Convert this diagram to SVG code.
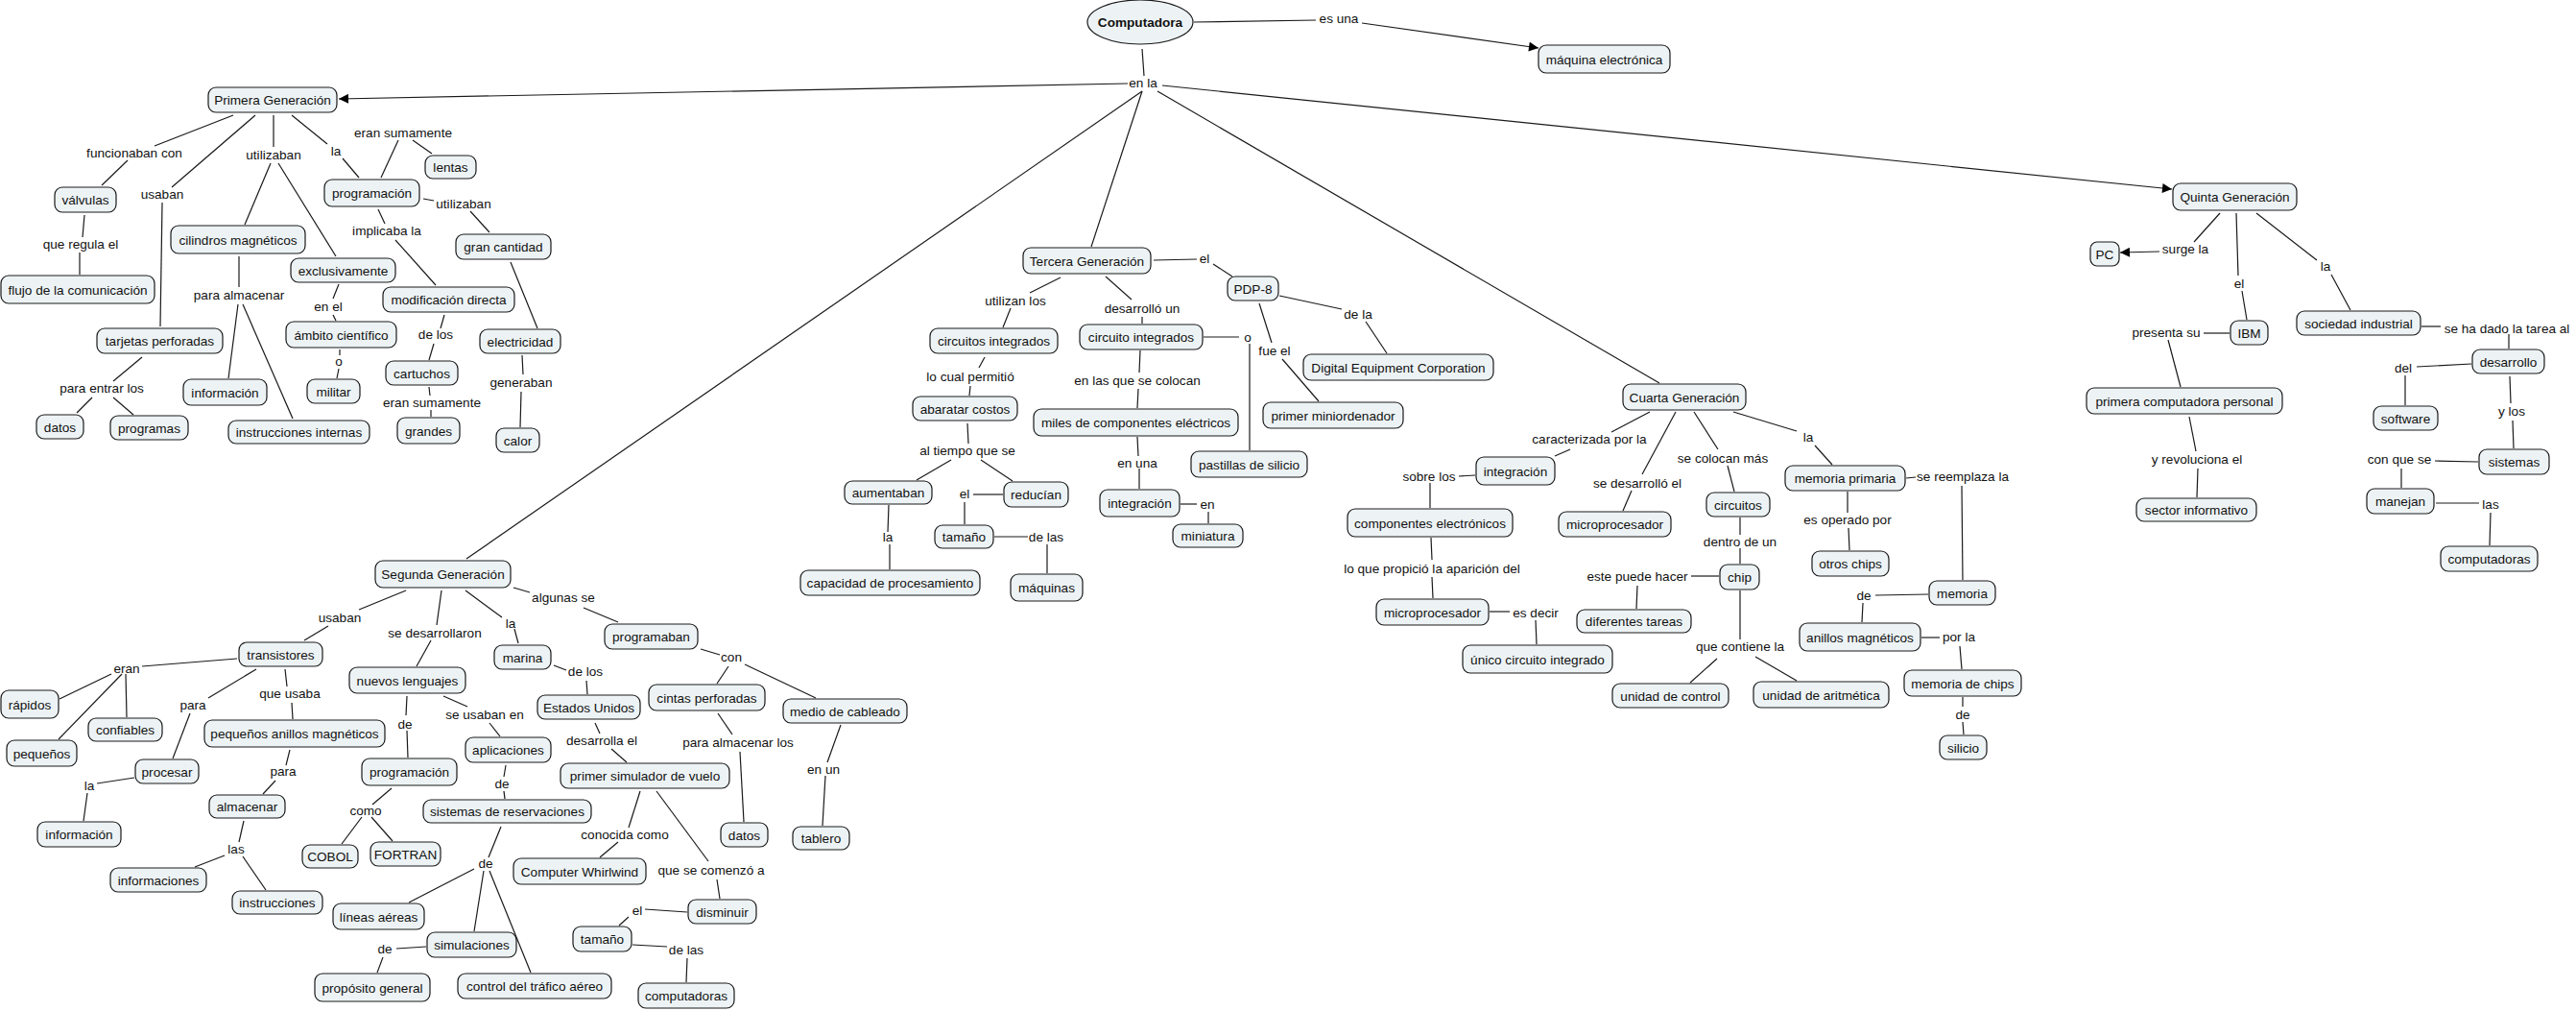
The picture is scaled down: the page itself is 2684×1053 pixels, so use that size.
<svg xmlns="http://www.w3.org/2000/svg" width="2684" height="1053" viewBox="0 0 2684 1053">
<style>
.n rect,.n ellipse{fill:#edf3f5;stroke:#1a1a1a;stroke-width:1.2}
text{font-family:"Liberation Sans",Arial,sans-serif;font-size:13.6px;fill:#111;text-anchor:middle}
.b{font-weight:bold}
#connectors path{stroke:#1a1a1a;stroke-width:1.2;fill:none}
</style>
<defs>
<marker id="arr" viewBox="0 0 10 10" refX="10" refY="5" markerWidth="11" markerHeight="10" markerUnits="userSpaceOnUse" orient="auto"><path d="M0,0 L10,5 L0,10 z" fill="#000"/></marker>
</defs>
<rect width="2684" height="1053" fill="#fff"/>
<g id="connectors">
<path d="M1244,23 L1371,21"/>
<path d="M1419,24 L1603,50" marker-end="url(#arr)"/>
<path d="M1190,51 L1192,79"/>
<path d="M1175,87 L353,103" marker-end="url(#arr)"/>
<path d="M1211,89 L2263,197" marker-end="url(#arr)"/>
<path d="M1206,95 L1729,399"/>
<path d="M1190,95 L486,582"/>
<path d="M1190,95 L1137,257"/>
<path d="M243,120 L161,152"/><path d="M133,167 L106,193"/>
<path d="M266,120 L179,195"/><path d="M169,211 L167,340"/>
<path d="M285,120 L285,153"/><path d="M282,170 L255,234"/><path d="M290,170 L350,267"/>
<path d="M304,120 L341,150"/><path d="M357,165 L374,185"/>
<path d="M397,185 L415,146"/><path d="M430,146 L450,160"/>
<path d="M441,207 L452,209"/><path d="M490,220 L510,242"/>
<path d="M394,218 L401,233"/><path d="M412,250 L454,297"/>
<path d="M88,224 L86,247"/><path d="M83,263 L83,286"/>
<path d="M249,267 L249,299"/><path d="M248,317 L238,394"/><path d="M253,317 L305,436"/>
<path d="M353,296 L347,311"/><path d="M347,328 L350,334"/>
<path d="M463,328 L459,342"/><path d="M532,273 L560,342"/>
<path d="M148,372 L118,397"/><path d="M96,414 L80,430"/><path d="M118,414 L139,432"/>
<path d="M354,364 L354,370"/><path d="M353,384 L351,394"/>
<path d="M452,358 L447,375"/><path d="M447,403 L448,412"/><path d="M449,427 L449,434"/>
<path d="M544,370 L545,390"/><path d="M543,408 L542,445"/>
<path d="M423,615 L374,635"/><path d="M342,652 L317,667"/>
<path d="M460,615 L455,651"/><path d="M449,667 L434,694"/>
<path d="M485,615 L523,643"/><path d="M536,655 L540,670"/>
<path d="M535,612 L552,617"/><path d="M608,633 L644,648"/>
<path d="M247,686 L148,694"/>
<path d="M116,702 L62,728"/><path d="M127,702 L61,770"/><path d="M131,702 L132,747"/>
<path d="M267,697 L217,727"/><path d="M198,743 L180,790"/>
<path d="M297,697 L299,715"/><path d="M304,732 L305,749"/>
<path d="M140,810 L101,816"/><path d="M91,826 L87,855"/>
<path d="M302,781 L298,797"/><path d="M287,813 L274,827"/>
<path d="M254,855 L249,877"/><path d="M234,891 L203,903"/><path d="M253,892 L277,927"/>
<path d="M424,725 L423,745"/><path d="M424,761 L425,789"/>
<path d="M462,725 L487,736"/><path d="M510,753 L521,767"/>
<path d="M527,797 L525,809"/><path d="M525,824 L526,832"/>
<path d="M408,821 L388,838"/><path d="M377,851 L356,879"/><path d="M387,851 L409,876"/>
<path d="M522,861 L509,893"/><path d="M494,905 L426,940"/><path d="M504,907 L494,970"/><path d="M510,907 L553,1013"/>
<path d="M444,986 L413,988"/><path d="M399,997 L393,1013"/>
<path d="M577,693 L590,698"/><path d="M611,709 L612,723"/>
<path d="M620,753 L625,764"/><path d="M637,780 L653,794"/>
<path d="M667,824 L655,862"/><path d="M644,877 L625,893"/>
<path d="M645,964 L655,955"/><path d="M672,947 L716,950"/>
<path d="M659,984 L695,986"/><path d="M716,998 L715,1023"/>
<path d="M730,676 L750,682"/><path d="M759,694 L747,712"/><path d="M776,692 L850,727"/>
<path d="M748,743 L763,765"/><path d="M771,783 L775,856"/>
<path d="M876,755 L862,794"/><path d="M860,808 L857,860"/>
<path d="M684,824 L738,897"/><path d="M747,916 L750,936"/>
<path d="M1202,271 L1247,270"/><path d="M1264,275 L1284,288"/>
<path d="M1105,289 L1073,305"/><path d="M1053,321 L1045,341"/>
<path d="M1152,288 L1179,312"/><path d="M1190,330 L1190,337"/>
<path d="M1333,308 L1398,322"/><path d="M1423,335 L1445,368"/>
<path d="M1312,316 L1325,357"/><path d="M1336,374 L1374,418"/>
<path d="M1026,372 L1020,383"/><path d="M1011,402 L1010,412"/>
<path d="M1008,441 L1009,462"/><path d="M991,479 L955,500"/><path d="M1022,479 L1055,501"/>
<path d="M1045,515 L1014,515"/><path d="M1005,523 L1005,546"/>
<path d="M1036,559 L1071,559"/><path d="M1091,567 L1091,597"/>
<path d="M926,526 L925,554"/><path d="M927,567 L927,593"/>
<path d="M1188,365 L1187,388"/><path d="M1186,405 L1185,425"/>
<path d="M1185,455 L1186,475"/><path d="M1187,488 L1187,509"/>
<path d="M1230,525 L1247,525"/><path d="M1259,533 L1259,545"/>
<path d="M1254,351 L1291,351"/><path d="M1302,358 L1302,469"/>
<path d="M1719,429 L1679,450"/><path d="M1636,468 L1620,475"/>
<path d="M1537,495 L1520,496"/><path d="M1490,503 L1490,529"/>
<path d="M1746,429 L1711,494"/><path d="M1700,511 L1691,532"/>
<path d="M1765,429 L1790,468"/><path d="M1800,485 L1807,512"/>
<path d="M1806,429 L1872,449"/><path d="M1891,464 L1909,484"/>
<path d="M1986,498 L1996,497"/><path d="M2044,506 L2045,604"/>
<path d="M1925,512 L1925,534"/><path d="M1926,550 L1927,573"/>
<path d="M1813,539 L1813,557"/><path d="M1813,571 L1813,587"/>
<path d="M1791,600 L1762,600"/><path d="M1706,610 L1705,634"/>
<path d="M1813,615 L1813,666"/>
<path d="M1789,686 L1761,711"/><path d="M1829,684 L1872,709"/>
<path d="M1491,560 L1492,583"/><path d="M1492,601 L1493,623"/>
<path d="M1552,637 L1573,637"/><path d="M1600,646 L1601,671"/>
<path d="M2009,619 L1954,620"/><path d="M1941,628 L1940,648"/>
<path d="M2002,664 L2021,664"/><path d="M2042,673 L2044,697"/>
<path d="M2045,726 L2045,736"/><path d="M2045,752 L2046,765"/>
<path d="M2313,222 L2286,252"/><path d="M2250,262 L2209,263" marker-end="url(#arr)"/>
<path d="M2330,222 L2332,287"/><path d="M2336,303 L2341,333"/>
<path d="M2351,222 L2414,271"/><path d="M2429,286 L2449,323"/>
<path d="M2323,347 L2296,347"/><path d="M2523,340 L2543,340"/>
<path d="M2614,348 L2614,363"/><path d="M2259,354 L2272,403"/>
<path d="M2281,434 L2288,470"/><path d="M2290,488 L2289,518"/>
<path d="M2575,379 L2518,382"/><path d="M2506,391 L2506,422"/>
<path d="M2615,392 L2616,420"/><path d="M2618,438 L2619,467"/>
<path d="M2582,481 L2537,480"/><path d="M2502,488 L2502,508"/>
<path d="M2538,524 L2583,524"/><path d="M2595,534 L2594,568"/>
</g>
<g id="linking-phrases">
<text x="1395" y="24">es una</text>
<text x="1191" y="91">en la</text>
<text x="140" y="164">funcionaban con</text>
<text x="169" y="207">usaban</text>
<text x="285" y="166">utilizaban</text>
<text x="350" y="162">la</text>
<text x="420" y="143">eran sumamente</text>
<text x="483" y="217">utilizaban</text>
<text x="403" y="245">implicaba la</text>
<text x="84" y="259">que regula el</text>
<text x="249" y="312">para almacenar</text>
<text x="342" y="324">en el</text>
<text x="454" y="353">de los</text>
<text x="106" y="409">para entrar los</text>
<text x="353" y="381">o</text>
<text x="450" y="424">eran sumamente</text>
<text x="543" y="403">generaban</text>
<text x="354" y="648">usaban</text>
<text x="453" y="664">se desarrollaron</text>
<text x="532" y="654">la</text>
<text x="587" y="627">algunas se</text>
<text x="132" y="701">eran</text>
<text x="610" y="704">de los</text>
<text x="201" y="739">para</text>
<text x="302" y="727">que usaba</text>
<text x="93" y="823">la</text>
<text x="295" y="808">para</text>
<text x="246" y="889">las</text>
<text x="422" y="759">de</text>
<text x="505" y="749">se usaban en</text>
<text x="523" y="821">de</text>
<text x="381" y="849">como</text>
<text x="506" y="904">de</text>
<text x="401" y="993">de</text>
<text x="627" y="776">desarrolla el</text>
<text x="651" y="874">conocida como</text>
<text x="664" y="953">el</text>
<text x="762" y="689">con</text>
<text x="769" y="778">para almacenar los</text>
<text x="858" y="806">en un</text>
<text x="741" y="911">que se comenzó a</text>
<text x="715" y="994">de las</text>
<text x="1255" y="274">el</text>
<text x="1058" y="318">utilizan los</text>
<text x="1190" y="326">desarrolló un</text>
<text x="1415" y="332">de la</text>
<text x="1328" y="370">fue el</text>
<text x="1300" y="356">o</text>
<text x="1011" y="397">lo cual permitió</text>
<text x="1008" y="474">al tiempo que se</text>
<text x="1005" y="519">el</text>
<text x="925" y="564">la</text>
<text x="1090" y="564">de las</text>
<text x="1185" y="401">en las que se colocan</text>
<text x="1185" y="487">en una</text>
<text x="1258" y="530">en</text>
<text x="1656" y="462">caracterizada por la</text>
<text x="1489" y="501">sobre los</text>
<text x="1706" y="508">se desarrolló el</text>
<text x="1795" y="482">se colocan más</text>
<text x="1884" y="460">la</text>
<text x="2045" y="501">se reemplaza la</text>
<text x="1492" y="597">lo que propició la aparición del</text>
<text x="1600" y="643">es decir</text>
<text x="1813" y="569">dentro de un</text>
<text x="1925" y="546">es operado por</text>
<text x="1706" y="605">este puede hacer</text>
<text x="1813" y="678">que contiene la</text>
<text x="1942" y="625">de</text>
<text x="2041" y="668">por la</text>
<text x="2045" y="749">de</text>
<text x="2277" y="264">surge la</text>
<text x="2333" y="300">el</text>
<text x="2423" y="282">la</text>
<text x="2257" y="351">presenta su</text>
<text x="2612" y="347">se ha dado la tarea al</text>
<text x="2289" y="483">y revoluciona el</text>
<text x="2504" y="388">del</text>
<text x="2617" y="433">y los</text>
<text x="2500" y="483">con que se</text>
<text x="2595" y="530">las</text>
</g>
<g id="n-computadora" class="n"><ellipse cx="1188" cy="23" rx="55" ry="23"/><text class="b" x="1188" y="28">Computadora</text></g>
<g id="n-maquina" class="n"><rect x="1603" y="47" width="137" height="29" rx="8"/><text x="1671.5" y="66.5">máquina electrónica</text></g>
<g id="n-primera" class="n"><rect x="217" y="91" width="134" height="26" rx="8"/><text x="284" y="109">Primera Generación</text></g>
<g id="n-valvulas" class="n"><rect x="57" y="195" width="64" height="26" rx="8"/><text x="89" y="213">válvulas</text></g>
<g id="n-flujo" class="n"><rect x="1" y="287" width="160" height="29" rx="8"/><text x="81" y="306.5">flujo de la comunicación</text></g>
<g id="n-cilindros" class="n"><rect x="178" y="235" width="140" height="29" rx="8"/><text x="248" y="254.5">cilindros magnéticos</text></g>
<g id="n-exclusivamente" class="n"><rect x="303" y="269" width="109" height="25" rx="8"/><text x="357.5" y="286.5">exclusivamente</text></g>
<g id="n-programacion1" class="n"><rect x="338" y="187" width="99" height="28" rx="8"/><text x="387.5" y="206">programación</text></g>
<g id="n-lentas" class="n"><rect x="443" y="162" width="53" height="24" rx="8"/><text x="469.5" y="179">lentas</text></g>
<g id="n-grancantidad" class="n"><rect x="475" y="244" width="99" height="26" rx="8"/><text x="524.5" y="262">gran cantidad</text></g>
<g id="n-modificacion" class="n"><rect x="399" y="299" width="137" height="26" rx="8"/><text x="467.5" y="317">modificación directa</text></g>
<g id="n-ambito" class="n"><rect x="298" y="335" width="115" height="27" rx="8"/><text x="355.5" y="353.5">ámbito científico</text></g>
<g id="n-tarjetas" class="n"><rect x="101" y="342" width="131" height="26" rx="8"/><text x="166.5" y="360">tarjetas perforadas</text></g>
<g id="n-electricidad" class="n"><rect x="500" y="343" width="84" height="25" rx="8"/><text x="542" y="360.5">electricidad</text></g>
<g id="n-datos1" class="n"><rect x="38" y="432" width="49" height="25" rx="8"/><text x="62.5" y="449.5">datos</text></g>
<g id="n-programas" class="n"><rect x="115" y="433" width="81" height="25" rx="8"/><text x="155.5" y="450.5">programas</text></g>
<g id="n-informacion1" class="n"><rect x="191" y="395" width="87" height="27" rx="8"/><text x="234.5" y="413.5">información</text></g>
<g id="n-instrucciones-internas" class="n"><rect x="238" y="438" width="147" height="24" rx="8"/><text x="311.5" y="455">instrucciones internas</text></g>
<g id="n-militar" class="n"><rect x="320" y="395" width="55" height="25" rx="8"/><text x="347.5" y="412.5">militar</text></g>
<g id="n-cartuchos" class="n"><rect x="402" y="376" width="75" height="25" rx="8"/><text x="439.5" y="393.5">cartuchos</text></g>
<g id="n-grandes" class="n"><rect x="414" y="435" width="65" height="27" rx="8"/><text x="446.5" y="453.5">grandes</text></g>
<g id="n-calor" class="n"><rect x="517" y="446" width="45" height="25" rx="8"/><text x="539.5" y="463.5">calor</text></g>
<g id="n-segunda" class="n"><rect x="391" y="584" width="141" height="28" rx="8"/><text x="461.5" y="603">Segunda Generación</text></g>
<g id="n-transistores" class="n"><rect x="249" y="669" width="87" height="25" rx="8"/><text x="292.5" y="686.5">transistores</text></g>
<g id="n-marina" class="n"><rect x="515" y="672" width="59" height="25" rx="8"/><text x="544.5" y="689.5">marina</text></g>
<g id="n-programaban" class="n"><rect x="630" y="650" width="97" height="26" rx="8"/><text x="678.5" y="668">programaban</text></g>
<g id="n-nuevos" class="n"><rect x="364" y="695" width="121" height="27" rx="8"/><text x="424.5" y="713.5">nuevos lenguajes</text></g>
<g id="n-rapidos" class="n"><rect x="1" y="719" width="60" height="29" rx="8"/><text x="31" y="738.5">rápidos</text></g>
<g id="n-confiables" class="n"><rect x="92" y="748" width="77" height="24" rx="8"/><text x="130.5" y="765">confiables</text></g>
<g id="n-pequenos" class="n"><rect x="7" y="771" width="73" height="27" rx="8"/><text x="43.5" y="789.5">pequeños</text></g>
<g id="n-procesar" class="n"><rect x="141" y="791" width="66" height="25" rx="8"/><text x="174" y="808.5">procesar</text></g>
<g id="n-informacion2" class="n"><rect x="39" y="856" width="87" height="26" rx="8"/><text x="82.5" y="874">información</text></g>
<g id="n-pequenos-anillos" class="n"><rect x="213" y="750" width="188" height="28" rx="8"/><text x="307" y="769">pequeños anillos magnéticos</text></g>
<g id="n-almacenar" class="n"><rect x="218" y="828" width="79" height="24" rx="8"/><text x="257.5" y="845">almacenar</text></g>
<g id="n-informaciones" class="n"><rect x="115" y="904" width="100" height="25" rx="8"/><text x="165" y="921.5">informaciones</text></g>
<g id="n-instrucciones" class="n"><rect x="242" y="928" width="94" height="24" rx="8"/><text x="289" y="945">instrucciones</text></g>
<g id="n-programacion2" class="n"><rect x="377" y="790" width="99" height="28" rx="8"/><text x="426.5" y="809">programación</text></g>
<g id="n-cobol" class="n"><rect x="315" y="880" width="58" height="24" rx="8"/><text x="344" y="897">COBOL</text></g>
<g id="n-fortran" class="n"><rect x="386" y="877" width="73" height="25" rx="8"/><text x="422.5" y="894.5">FORTRAN</text></g>
<g id="n-aplicaciones" class="n"><rect x="485" y="768" width="89" height="26" rx="8"/><text x="529.5" y="786">aplicaciones</text></g>
<g id="n-sistemas-res" class="n"><rect x="441" y="833" width="175" height="24" rx="8"/><text x="528.5" y="850">sistemas de reservaciones</text></g>
<g id="n-lineas" class="n"><rect x="347" y="941" width="95" height="27" rx="8"/><text x="394.5" y="959.5">líneas aéreas</text></g>
<g id="n-simulaciones" class="n"><rect x="445" y="971" width="93" height="26" rx="8"/><text x="491.5" y="989">simulaciones</text></g>
<g id="n-proposito" class="n"><rect x="328" y="1014" width="120" height="29" rx="8"/><text x="388" y="1033.5">propósito general</text></g>
<g id="n-control" class="n"><rect x="477" y="1014" width="160" height="26" rx="8"/><text x="557" y="1032">control del tráfico aéreo</text></g>
<g id="n-estados" class="n"><rect x="560" y="724" width="107" height="25" rx="8"/><text x="613.5" y="741.5">Estados Unidos</text></g>
<g id="n-primer-sim" class="n"><rect x="584" y="795" width="176" height="26" rx="8"/><text x="672" y="813">primer simulador de vuelo</text></g>
<g id="n-whirlwind" class="n"><rect x="535" y="894" width="138" height="27" rx="8"/><text x="604" y="912.5">Computer Whirlwind</text></g>
<g id="n-tamano2" class="n"><rect x="597" y="965" width="61" height="26" rx="8"/><text x="627.5" y="983">tamaño</text></g>
<g id="n-computadoras2" class="n"><rect x="665" y="1024" width="100" height="26" rx="8"/><text x="715" y="1042">computadoras</text></g>
<g id="n-cintas" class="n"><rect x="676" y="713" width="121" height="27" rx="8"/><text x="736.5" y="731.5">cintas perforadas</text></g>
<g id="n-medio" class="n"><rect x="816" y="728" width="129" height="25" rx="8"/><text x="880.5" y="745.5">medio de cableado</text></g>
<g id="n-datos2" class="n"><rect x="751" y="857" width="49" height="25" rx="8"/><text x="775.5" y="874.5">datos</text></g>
<g id="n-tablero" class="n"><rect x="826" y="861" width="59" height="24" rx="8"/><text x="855.5" y="878">tablero</text></g>
<g id="n-disminuir" class="n"><rect x="717" y="937" width="71" height="25" rx="8"/><text x="752.5" y="954.5">disminuir</text></g>
<g id="n-tercera" class="n"><rect x="1066" y="258" width="133" height="27" rx="8"/><text x="1132.5" y="276.5">Tercera Generación</text></g>
<g id="n-pdp8" class="n"><rect x="1279" y="288" width="53" height="25" rx="8"/><text x="1305.5" y="305.5">PDP-8</text></g>
<g id="n-circuitos-integrados" class="n"><rect x="969" y="342" width="133" height="26" rx="8"/><text x="1035.5" y="360">circuitos integrados</text></g>
<g id="n-circuito-integrados" class="n"><rect x="1125" y="338" width="128" height="26" rx="8"/><text x="1189" y="356">circuito integrados</text></g>
<g id="n-abaratar" class="n"><rect x="951" y="413" width="109" height="25" rx="8"/><text x="1005.5" y="430.5">abaratar costos</text></g>
<g id="n-miles" class="n"><rect x="1077" y="426" width="213" height="28" rx="8"/><text x="1183.5" y="445">miles de componentes eléctricos</text></g>
<g id="n-pastillas" class="n"><rect x="1241" y="470" width="121" height="27" rx="8"/><text x="1301.5" y="488.5">pastillas de silicio</text></g>
<g id="n-aumentaban" class="n"><rect x="880" y="501" width="91" height="24" rx="8"/><text x="925.5" y="518">aumentaban</text></g>
<g id="n-reducian" class="n"><rect x="1046" y="502" width="67" height="26" rx="8"/><text x="1079.5" y="520">reducían</text></g>
<g id="n-tamano1" class="n"><rect x="974" y="547" width="61" height="24" rx="8"/><text x="1004.5" y="564">tamaño</text></g>
<g id="n-capacidad" class="n"><rect x="834" y="594" width="187" height="26" rx="8"/><text x="927.5" y="612">capacidad de procesamiento</text></g>
<g id="n-maquinas" class="n"><rect x="1053" y="598" width="75" height="28" rx="8"/><text x="1090.5" y="617">máquinas</text></g>
<g id="n-integracion1" class="n"><rect x="1146" y="510" width="83" height="28" rx="8"/><text x="1187.5" y="529">integración</text></g>
<g id="n-miniatura" class="n"><rect x="1222" y="546" width="73" height="24" rx="8"/><text x="1258.5" y="563">miniatura</text></g>
<g id="n-digital" class="n"><rect x="1358" y="369" width="198" height="27" rx="8"/><text x="1457" y="387.5">Digital Equipment Corporation</text></g>
<g id="n-miniordenador" class="n"><rect x="1316" y="419" width="146" height="27" rx="8"/><text x="1389" y="437.5">primer miniordenador</text></g>
<g id="n-cuarta" class="n"><rect x="1691" y="400" width="128" height="27" rx="8"/><text x="1755" y="418.5">Cuarta Generación</text></g>
<g id="n-integracion2" class="n"><rect x="1538" y="476" width="82" height="29" rx="8"/><text x="1579" y="495.5">integración</text></g>
<g id="n-componentes" class="n"><rect x="1404" y="530" width="172" height="29" rx="8"/><text x="1490" y="549.5">componentes electrónicos</text></g>
<g id="n-microproc1" class="n"><rect x="1624" y="533" width="117" height="26" rx="8"/><text x="1682.5" y="551">microprocesador</text></g>
<g id="n-circuitos" class="n"><rect x="1778" y="513" width="66" height="25" rx="8"/><text x="1811" y="530.5">circuitos</text></g>
<g id="n-memoria-primaria" class="n"><rect x="1860" y="485" width="125" height="26" rx="8"/><text x="1922.5" y="503">memoria primaria</text></g>
<g id="n-chip" class="n"><rect x="1792" y="588" width="41" height="26" rx="8"/><text x="1812.5" y="606">chip</text></g>
<g id="n-otros-chips" class="n"><rect x="1888" y="574" width="80" height="26" rx="8"/><text x="1928" y="592">otros chips</text></g>
<g id="n-microproc2" class="n"><rect x="1434" y="624" width="117" height="27" rx="8"/><text x="1492.5" y="642.5">microprocesador</text></g>
<g id="n-diferentes" class="n"><rect x="1643" y="635" width="119" height="24" rx="8"/><text x="1702.5" y="652">diferentes tareas</text></g>
<g id="n-unico" class="n"><rect x="1524" y="672" width="156" height="29" rx="8"/><text x="1602" y="691.5">único circuito integrado</text></g>
<g id="n-anillos" class="n"><rect x="1875" y="649" width="126" height="29" rx="8"/><text x="1938" y="668.5">anillos magnéticos</text></g>
<g id="n-memoria" class="n"><rect x="2010" y="605" width="69" height="25" rx="8"/><text x="2044.5" y="622.5">memoria</text></g>
<g id="n-unidad-control" class="n"><rect x="1680" y="712" width="121" height="25" rx="8"/><text x="1740.5" y="729.5">unidad de control</text></g>
<g id="n-unidad-aritmetica" class="n"><rect x="1827" y="710" width="141" height="27" rx="8"/><text x="1897.5" y="728.5">unidad de aritmética</text></g>
<g id="n-memoria-chips" class="n"><rect x="1984" y="698" width="122" height="27" rx="8"/><text x="2045" y="716.5">memoria de chips</text></g>
<g id="n-silicio" class="n"><rect x="2021" y="766" width="49" height="25" rx="8"/><text x="2045.5" y="783.5">silicio</text></g>
<g id="n-quinta" class="n"><rect x="2264" y="191" width="129" height="28" rx="8"/><text x="2328.5" y="210">Quinta Generación</text></g>
<g id="n-pc" class="n"><rect x="2178" y="252" width="30" height="25" rx="7"/><text x="2193" y="269.5">PC</text></g>
<g id="n-ibm" class="n"><rect x="2324" y="334" width="39" height="25" rx="8"/><text x="2343.5" y="351.5">IBM</text></g>
<g id="n-sociedad" class="n"><rect x="2393" y="324" width="129" height="25" rx="8"/><text x="2457.5" y="341.5">sociedad industrial</text></g>
<g id="n-primera-comp" class="n"><rect x="2174" y="404" width="204" height="27" rx="8"/><text x="2276" y="422.5">primera computadora personal</text></g>
<g id="n-sector" class="n"><rect x="2226" y="519" width="125" height="24" rx="8"/><text x="2288.5" y="536">sector informativo</text></g>
<g id="n-desarrollo" class="n"><rect x="2576" y="364" width="75" height="25" rx="8"/><text x="2613.5" y="381.5">desarrollo</text></g>
<g id="n-software" class="n"><rect x="2473" y="423" width="67" height="25" rx="8"/><text x="2506.5" y="440.5">software</text></g>
<g id="n-sistemas" class="n"><rect x="2583" y="468" width="73" height="26" rx="8"/><text x="2619.5" y="486">sistemas</text></g>
<g id="n-manejan" class="n"><rect x="2466" y="509" width="70" height="26" rx="8"/><text x="2501" y="527">manejan</text></g>
<g id="n-computadoras1" class="n"><rect x="2543" y="569" width="101" height="26" rx="8"/><text x="2593.5" y="587">computadoras</text></g>
</svg>
